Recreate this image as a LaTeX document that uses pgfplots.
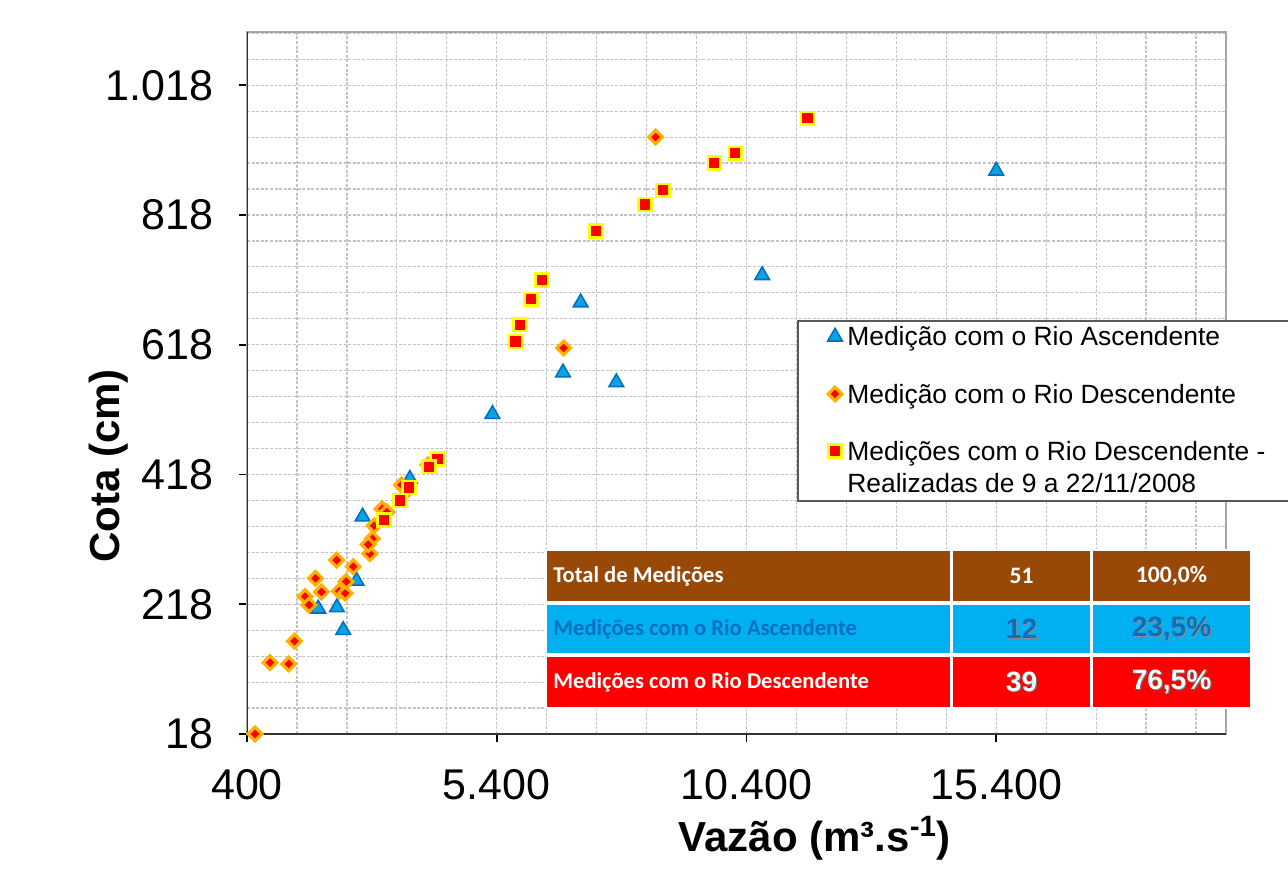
\documentclass[border=0pt]{standalone}
\usepackage{fontspec}
\setmainfont{Liberation Sans}
\newfontfamily\calibri{Carlito}
\usepackage{pgfplots}
\pgfplotsset{compat=1.18}
\pgfplotsset{legtwo/.style={legend image code/.code={\draw[##1] plot coordinates {(0cm,20.6pt)};}}}
\definecolor{gridc}{HTML}{C4C4C4}
\definecolor{triF}{HTML}{0BA3E6}
\definecolor{triD}{HTML}{0070C0}
\definecolor{dOr}{HTML}{FFB000}
\definecolor{sqY}{HTML}{FFFF00}
\definecolor{brownT}{HTML}{984807}
\definecolor{cyanT}{HTML}{00B0F0}
\definecolor{blueT}{HTML}{0070C0}
\definecolor{redT}{HTML}{FF0000}
\begin{document}
\begin{tikzpicture}
\useasboundingbox (0,0) rectangle (644pt,436.5pt);
\begin{axis}[
  at={(123.5pt,69.5pt)}, anchor=south west,
  scale only axis, width=489.5pt, height=351pt,
  xmin=400, xmax=20000, ymin=18, ymax=1100,
  xtick={400,5400,10400,15400},
  ytick={18,218,418,618,818,1018},
  minor xtick={1400,2400,...,19400},
  minor ytick={58,98,...,1098},
  grid=both,
  major grid style={gridc, line width=0.6pt, dash pattern=on 1.5pt off 0.8pt},
  minor grid style={gridc, line width=0.6pt, dash pattern=on 1.5pt off 0.8pt},
  axis line style={color=black!35, line width=1pt},
  tick pos=left, tick align=outside,
  major tick length=4pt, minor tick length=0pt,
  tick style={black, line width=0.8pt},
  scaled ticks=false,
  /pgf/number format/.cd, fixed, precision=0, 1000 sep={.}, assume math mode=true,
  /pgfplots/.cd,
  tick label style={font=\fontsize{21.5}{25}\selectfont},
  xticklabel style={yshift=-10pt},
  yticklabel style={xshift=-9.5pt},
  xlabel={Vazão (m³.s\textsuperscript{-1})},
  ylabel={Cota (cm)},
  xlabel style={font=\bfseries\fontsize{21}{25}\selectfont, at={(axis description cs:0.58,-0.148)}, anchor=center},
  ylabel style={font=\bfseries\fontsize{21}{25}\selectfont, at={(axis description cs:-0.141,0.382)}, anchor=center, rotate=0},
  legend image code/.code={\draw[#1] plot coordinates {(0cm,4.6pt)};},
  legend cell align=left,
  legend style={at={(axis description cs:0.5618,0.5897)}, anchor=north west,
    draw=black!65, line width=0.8pt, fill=white,
    font=\fontsize{13.2}{16}\selectfont,
    cells={anchor=base west, align=left},
    nodes={inner sep=1.5pt},
    inner xsep=15pt, inner ysep=1.5pt, row sep=14.5pt, column sep=1pt},
]
\addplot[only marks, mark=triangle*, mark size=4.2pt, mark options={fill=triF, draw=triD, line width=0.8pt}]
coordinates {
(15400,886) (10714,725) (7080,683) (6726,575) (7794,560) (5314,511)
(3660,411) (2714,353) (2594,254) (1826,211) (2200,213) (2326,178)
};
\addlegendentry{Medição com o Rio Ascendente}
\addplot[only marks, mark=square*, mark size=2.4pt, mark options={rotate=45, fill=redT, draw=dOr, line width=1.6pt}]
coordinates {
(8580,938) (6740,613) (560,18) (860,128) (1234,126) (1350,161)
(1564,230) (1640,217) (1770,258) (1890,237) (2194,286) (2246,238)
(2364,235) (2386,253) (2526,276) (2860,296) (2910,319) (2826,310)
(2946,339) (3106,365) (3494,402) (4020,433) (3600,393) (3200,360)
};
\addlegendentry{Medição com o Rio Descendente}
\addplot[only marks, mark=square*, mark size=3.2pt, mark options={fill=redT, draw=sqY, line width=1.3pt}, legtwo]
coordinates {
(11620,967) (10174,913) (9754,898) (8726,856) (8366,834) (7380,793)
(6300,718) (6086,688) (5866,649) (5774,623) (4214,442) (4040,430)
(3646,398) (3460,378) (3146,348)
};
\addlegendentry{Medições com o Rio Descendente -\\Realizadas de 9 a 22/11/2008}
\draw[black!80, line width=1pt] (rel axis cs:0,1) -- (rel axis cs:0,0) -- (rel axis cs:1,0);
\end{axis}
% summary table
\fill[white] (272.5pt,82pt) rectangle (626pt,162pt);
\fill[brownT] (273.5pt,136pt) rectangle (475pt,161pt);
\fill[brownT] (476.5pt,136pt) rectangle (545pt,161pt);
\fill[brownT] (546.5pt,136pt) rectangle (625pt,161pt);
\fill[cyanT] (273.5pt,110pt) rectangle (475pt,134pt);
\fill[cyanT] (476.5pt,110pt) rectangle (545pt,134pt);
\fill[cyanT] (546.5pt,110pt) rectangle (625pt,134pt);
\fill[redT] (273.5pt,83pt) rectangle (475pt,108pt);
\fill[redT] (476.5pt,83pt) rectangle (545pt,108pt);
\fill[redT] (546.5pt,83pt) rectangle (625pt,108pt);
\begin{scope}[every node/.style={inner sep=0pt}]
\node[anchor=west, text=white, font=\calibri\bfseries\fontsize{11.3}{13}\selectfont] at (276.5pt,148.5pt) {Total de Medições};
\node[text=white, font=\calibri\bfseries\fontsize{11.8}{13}\selectfont] at (510.75pt,148.5pt) {51};
\node[text=white, font=\calibri\bfseries\fontsize{11.8}{13}\selectfont] at (585.75pt,148.5pt) {100,0\%};
\node[anchor=west, text=blueT, font=\calibri\bfseries\fontsize{11.3}{13}\selectfont] at (276.5pt,122pt) {Medições com o Rio Ascendente};
\node[text=black!45, font=\bfseries\fontsize{14}{16}\selectfont] at (511.35pt,121.4pt) {12};
\node[text=blueT, font=\bfseries\fontsize{14}{16}\selectfont] at (510.75pt,122pt) {12};
\node[text=black!45, font=\bfseries\fontsize{14}{16}\selectfont] at (586.35pt,121.4pt) {23,5\%};
\node[text=blueT, font=\bfseries\fontsize{14}{16}\selectfont] at (585.75pt,122pt) {23,5\%};
\node[anchor=west, text=white, font=\calibri\bfseries\fontsize{11.3}{13}\selectfont] at (276.5pt,95.5pt) {Medições com o Rio Descendente};
\node[text=black!55, font=\bfseries\fontsize{14}{16}\selectfont] at (511.35pt,94.9pt) {39};
\node[text=white, font=\bfseries\fontsize{14}{16}\selectfont] at (510.75pt,95.5pt) {39};
\node[text=black!55, font=\bfseries\fontsize{14}{16}\selectfont] at (586.35pt,94.9pt) {76,5\%};
\node[text=white, font=\bfseries\fontsize{14}{16}\selectfont] at (585.75pt,95.5pt) {76,5\%};
\end{scope}
\end{tikzpicture}
\end{document}
